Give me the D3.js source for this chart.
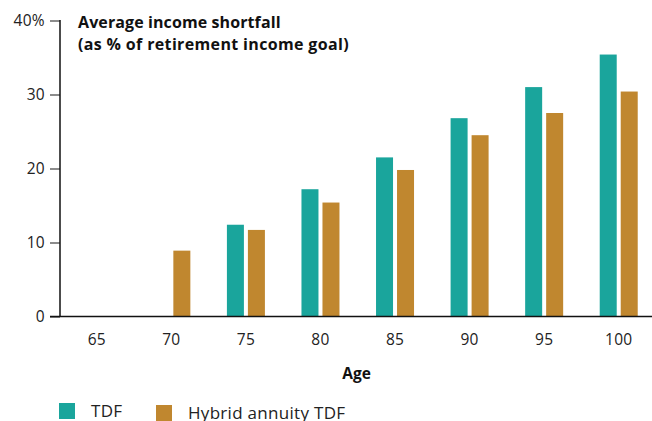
<!DOCTYPE html>
<html><head><meta charset="utf-8">
<script src="https://cdn.jsdelivr.net/npm/d3@7"></script>
<style>
html,body{margin:0;padding:0;background:#fff;}
text{font-family:"Open Sans",sans-serif;}
</style></head>
<body>
<svg id="c" width="652" height="421"></svg>
<script>
const ages = ["65","70","75","80","85","90","95","100"];
const tdf = [0, 0, 12.4, 17.2, 21.5, 26.8, 31.0, 35.4];
const hybrid = [0, 8.9, 11.7, 15.4, 19.8, 24.5, 27.5, 30.4];
const yTicks = [0, 10, 20, 30, 40];
const seriesNames = ["TDF", "Hybrid annuity TDF"];
const colors = ["#1aa59c", "#c0872f"];
const FONT = "'Open Sans',sans-serif";

const svg = d3.select("#c");
const x = d3.scaleBand().domain(ages).range([59.5, 656]).paddingInner(0).paddingOuter(0);
const y = d3.scaleLinear().domain([0, 40]).range([316.5, 20.5]);

// y axis
const yAxis = svg.append("g").attr("transform","translate(60,0)")
  .call(d3.axisLeft(y).tickValues(yTicks).tickSize(10).tickPadding(5)
    .tickFormat(d => d === 40 ? "40%" : d));
yAxis.select(".domain").remove();
yAxis.selectAll(".tick line").attr("stroke","#666").attr("stroke-width",1.5);
yAxis.selectAll(".tick text").attr("font-size",15.5).attr("fill","#222")
  .attr("font-family",FONT).attr("letter-spacing",0.3);
svg.append("line").attr("x1",60).attr("x2",60).attr("y1",y(40)-0.5).attr("y2",y(0))
  .attr("stroke","#111").attr("stroke-width",1.5);

// bars
const bw = 17, gap = 4;
const groups = svg.append("g");
ages.forEach((a,i)=>{
  const c = x(a) + x.bandwidth()/2;
  [tdf[i], hybrid[i]].forEach((v,j)=>{
    if (v <= 0) return;
    groups.append("rect")
      .attr("x", j === 0 ? c - gap/2 - bw : c + gap/2)
      .attr("width", bw)
      .attr("y", y(v)).attr("height", y(0) - y(v))
      .attr("fill", colors[j]);
  });
});

// x axis
const xAxis = svg.append("g").attr("transform",`translate(0,${y(0)})`)
  .call(d3.axisBottom(x).tickSize(0).tickPadding(17));
xAxis.select(".domain").remove();
xAxis.selectAll(".tick text").attr("font-size",15.5).attr("fill","#222")
  .attr("font-family",FONT).attr("letter-spacing",0.3);
svg.append("line").attr("x1",50).attr("x2",652).attr("y1",y(0)).attr("y2",y(0))
  .attr("stroke","#111").attr("stroke-width",1.5);

svg.append("text").attr("x",356.5).attr("y",379).attr("text-anchor","middle")
  .attr("font-size",15.5).attr("font-weight","bold").attr("fill","#111").text("Age");

// title
svg.append("text").attr("x",78).attr("y",28).attr("font-size",16).attr("font-weight","bold")
  .attr("letter-spacing",0.1).attr("fill","#111").text("Average income shortfall");
svg.append("text").attr("x",78).attr("y",50).attr("font-size",16).attr("font-weight","bold")
  .attr("letter-spacing",0.35).attr("fill","#111").text("(as % of retirement income goal)");

// legend
const leg = [{x:59,y:403,tx:91},{x:156,y:405,tx:188}];
seriesNames.forEach((n,j)=>{
  svg.append("rect").attr("x",leg[j].x).attr("y",leg[j].y).attr("width",16).attr("height",16).attr("fill",colors[j]);
  svg.append("text").attr("x",leg[j].tx).attr("y",leg[j].y+14).attr("font-size",17)
    .attr("letter-spacing",0.3).attr("fill","#222").text(n);
});
</script>
</body></html>
